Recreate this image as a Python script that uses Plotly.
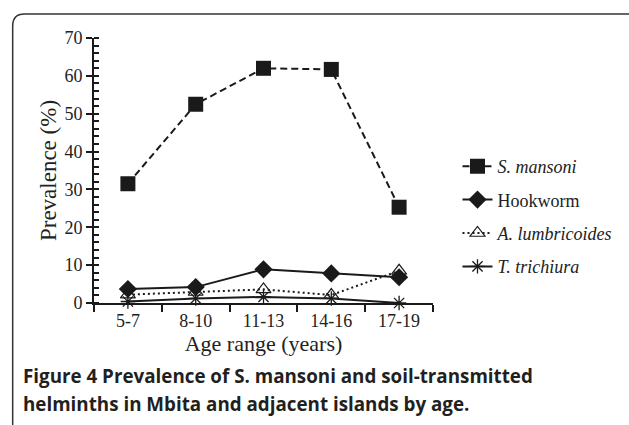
import plotly.graph_objects as go

age_ranges = ["5-7", "8-10", "11-13", "14-16", "17-19"]
s_mansoni = [31.5, 52.5, 62.0, 61.7, 25.3]
hookworm = [3.7, 4.2, 8.9, 7.8, 6.8]
a_lumbricoides = [2.2, 2.9, 3.6, 2.1, 8.5]
t_trichiura = [0.4, 1.2, 1.6, 1.2, 0.0]

W, H = 629, 425
L, R, T, B = 94, 440, 38, 303
pw, ph = R - L, B - T

def px(x):
    return (x - L) / pw

def py(y):
    return (B - y) / ph

fig = go.Figure()
serif = "Liberation Serif, Times New Roman, serif"
ink = "#1a1a1a"

fig.add_trace(go.Scatter(x=age_ranges, y=s_mansoni, name="<i>S. mansoni</i>", legendgroup="a",
                         mode="lines+markers", line=dict(color=ink, width=2, dash="7px,4px"),
                         marker=dict(symbol="square", size=15, color=ink), cliponaxis=False))
fig.add_trace(go.Scatter(x=age_ranges, y=hookworm, name="Hookworm", legendgroup="b",
                         mode="lines+markers", line=dict(color=ink, width=2),
                         marker=dict(symbol="diamond", size=14, color=ink), cliponaxis=False))
fig.add_trace(go.Scatter(x=age_ranges, y=a_lumbricoides, name="<i>A. lumbricoides</i>", legendgroup="c",
                         mode="lines+markers", line=dict(color=ink, width=2, dash="2px,3px"),
                         marker=dict(symbol="triangle-up-open", size=13, color=ink, line=dict(width=1.2)),
                         cliponaxis=False))
fig.add_trace(go.Scatter(x=age_ranges, y=t_trichiura, name="<i>T. trichiura</i>", legendgroup="d",
                         mode="lines+markers", line=dict(color=ink, width=2),
                         marker=dict(symbol="asterisk-open", size=12, color=ink, line=dict(width=1.3, color=ink)),
                         cliponaxis=False))

fig.update_layout(
    width=W, height=H,
    margin=dict(l=L, r=W - R, t=T, b=H - B),
    paper_bgcolor="white", plot_bgcolor="white",
    font=dict(family=serif, color="#222222", size=16),
    showlegend=True,
    legend=dict(x=px(465), y=py(148), xanchor="left", yanchor="top",
                font=dict(family=serif, size=18, color="#222222"),
                tracegroupgap=7, itemwidth=30, bgcolor="rgba(0,0,0,0)"),
    xaxis=dict(type="category", range=[-0.5, 4.5], showline=True, linecolor=ink, linewidth=2,
               ticks="outside", tickson="boundaries", ticklen=7, tickwidth=2, tickcolor=ink,
               showgrid=False, zeroline=False, tickfont=dict(size=18, family=serif),
               title=dict(text="Age range (years)", font=dict(size=22, family=serif), standoff=3)),
    yaxis=dict(range=[0, 70], dtick=10, showline=True, linecolor=ink, linewidth=2,
               ticks="outside", ticklen=6, tickwidth=2, tickcolor=ink,
               minor=dict(dtick=2, ticks="inside", ticklen=5, tickwidth=1.5, tickcolor=ink),
               showgrid=False, zeroline=False, tickfont=dict(size=18, family=serif),
               title=dict(text="Prevalence (%)", font=dict(size=23, family=serif), standoff=1)),
)

# rounded frame border
r = 12
path = (f"M {px(11)},{py(440)} L {px(11)},{py(14 + r)} "
        f"Q {px(11)},{py(14)} {px(11 + r)},{py(14)} L {px(660)},{py(14)}")
fig.add_shape(type="path", xref="paper", yref="paper", path=path,
              line=dict(color="#333333", width=1.5))

cap_font = dict(family="Open Sans, sans-serif", size=18.8, color="#231f20")
fig.add_annotation(xref="paper", yref="paper", x=px(20), y=py(376), xanchor="left", yanchor="middle",
                   showarrow=False, align="left",
                   text="<b>Figure 4 Prevalence of S. mansoni and soil-transmitted</b>", font=cap_font)
fig.add_annotation(xref="paper", yref="paper", x=px(20), y=py(404), xanchor="left", yanchor="middle",
                   showarrow=False, align="left",
                   text="<b>helminths in Mbita and adjacent islands by age.</b>", font=cap_font)

fig.write_html("out.html", config={"displayModeBar": False},
               post_script="document.body.style.margin='0';document.body.style.overflow='hidden';")
